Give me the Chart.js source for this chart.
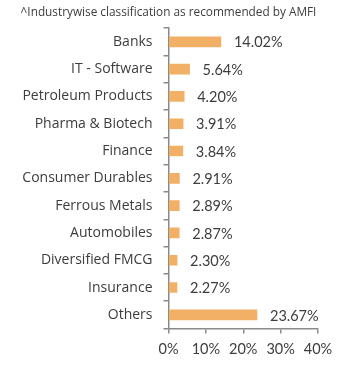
<!DOCTYPE html>
<html><head><meta charset="utf-8">
<script src="https://cdn.jsdelivr.net/npm/chart.js@4/dist/chart.umd.min.js"></script>
<style>html,body{margin:0;padding:0;background:#fff;}#wrap{width:361px;height:366px;position:relative;}</style>
</head><body><div id="wrap"><canvas id="c"></canvas></div>
<script>
const categories = ["Banks","IT - Software","Petroleum Products","Pharma & Biotech","Finance","Consumer Durables","Ferrous Metals","Automobiles","Diversified FMCG","Insurance","Others"];
const weights = [14.02,5.64,4.20,3.91,3.84,2.91,2.89,2.87,2.30,2.27,23.67];
const xTicks = [0,10,20,30,40];
const titleText = "^Industrywise classification as recommended by AMFI";

const labelPlugin = {
  id: 'valueLabels',
  afterDatasetsDraw(chart) {
    const ctx = chart.ctx;
    const meta = chart.getDatasetMeta(0);
    ctx.save();
    ctx.font = '14.5px Lato';
    ctx.fillStyle = '#3d3d3d';
    ctx.textAlign = 'left';
    ctx.textBaseline = 'middle';
    meta.data.forEach((bar, i) => {
      ctx.fillText(weights[i].toFixed(2) + '%', bar.x + 13, bar.y + 1);
    });
    ctx.restore();
  }
};

new Chart(document.getElementById('c'), {
  type: 'bar',
  data: { labels: categories, datasets: [{ data: weights, backgroundColor: '#F2AF66', barThickness: 10 }] },
  options: {
    indexAxis: 'y',
    responsive: true,
    maintainAspectRatio: false,
    animation: false,
    layout: { padding: { left: 19, right: 43, top: 0, bottom: 0 } },
    plugins: {
      legend: { display: false },
      tooltip: { enabled: false },
      title: { display: true, text: titleText, color: '#3d3d3d', font: { family: 'Open Sans', size: 11.8, weight: 'normal' }, padding: { top: 6, bottom: 8 } }
    },
    scales: {
      x: {
        min: 0, max: 40,
        afterBuildTicks(axis) { axis.ticks = xTicks.map(v => ({ value: v })); },
        ticks: { callback: v => v + '%', color: '#3d3d3d', font: { family: 'Lato', size: 14.5, lineHeight: 1 }, padding: 9, maxRotation: 0 },
        grid: { drawOnChartArea: false, drawTicks: true, tickLength: 5, color: '#8a8a8a', lineWidth: 1.5 },
        border: { color: '#8a8a8a', width: 1.5 }
      },
      y: {
        ticks: { color: '#3d3d3d', font: { family: 'Open Sans', size: 14 }, padding: 11 },
        grid: { drawOnChartArea: false, drawTicks: true, tickLength: 5, color: '#8a8a8a', lineWidth: 1.5, offset: true },
        border: { color: '#8a8a8a', width: 1.5 }
      }
    }
  },
  plugins: [labelPlugin]
});
</script></body></html>
